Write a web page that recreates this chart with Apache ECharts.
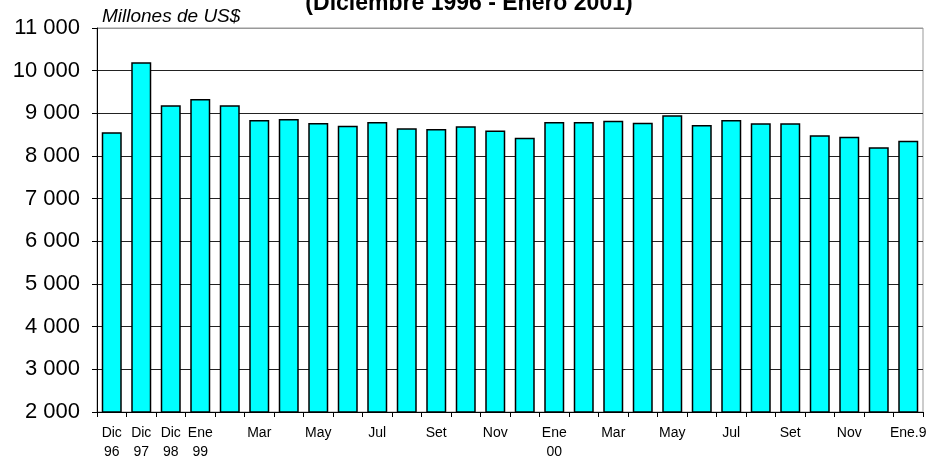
<!DOCTYPE html>
<html><head><meta charset="utf-8">
<script src="https://cdn.jsdelivr.net/npm/echarts@6/dist/echarts.min.js"></script>
<style>html,body{margin:0;padding:0;background:#fff}#c{width:935px;height:457px}</style>
</head><body><div id="c"></div>
<script>
const categories = ["Dic\n96","Dic\n97","Dic\n98","Ene\n99","Feb","Mar","Abr","May","Jun","Jul","Ago","Set","Oct","Nov","Dic","Ene\n00","Feb","Mar","Abr","May","Jun","Jul","Ago","Set","Oct","Nov","Dic","Ene.9"];
const values = [8555,10195,9190,9335,9190,8845,8865,8775,8710,8795,8650,8635,8695,8595,8430,8795,8795,8825,8780,8955,8725,8845,8765,8765,8485,8450,8205,8360];
const yTicks = [2000,3000,4000,5000,6000,7000,8000,9000,10000,11000];
const titleText = "(Diciembre 1996 - Enero 2001)";
const unitText = "Millones de US$";

const chart = echarts.init(document.getElementById('c'), null, {renderer:'canvas'});
const font = "Arial, 'Liberation Sans', sans-serif";
chart.setOption({
  animation:false,
  backgroundColor:'#fff',
  grid:{left:97,right:12,top:28,bottom:45,containLabel:false,outerBoundsMode:'none',show:true,borderColor:'#999',borderWidth:1,backgroundColor:'transparent'},
  graphic:[
    {type:'text',x:469,y:4,style:{text:titleText,font:"bold 23px "+font,fill:'#000',textAlign:'center',textVerticalAlign:'middle'}},
    {type:'text',x:102,y:17,style:{text:unitText,font:"italic 19px "+font,fill:'#000',textVerticalAlign:'middle'}}
  ],
  xAxis:{
    type:'category',data:categories,boundaryGap:true,
    axisLine:{lineStyle:{color:'#000',width:1}},
    axisTick:{show:true,alignWithLabel:false,interval:0,length:5,lineStyle:{color:'#000'}},
    axisLabel:{interval:function(i){return i<4||i%2===1;},margin:12,fontSize:14,lineHeight:19,color:'#000',fontFamily:font},
    splitLine:{show:false}
  },
  yAxis:{
    type:'value',min:yTicks[0],max:yTicks[yTicks.length-1],interval:1000,
    axisLine:{show:true,lineStyle:{color:'#000',width:1}},
    axisTick:{show:true,length:5,lineStyle:{color:'#000'}},
    axisLabel:{margin:17,fontSize:22,color:'#000',fontFamily:font,
      formatter:function(v){return String(v).replace(/\B(?=(\d{3})+(?!\d))/g,' ');}},
    splitLine:{show:true,lineStyle:{color:['#222','#222','#222','#222','#222','#222','#222','#222','#222','#999'],width:1}}
  },
  series:[{type:'bar',data:values,barWidth:20,
    itemStyle:{color:'#00FFFF',borderColor:'#000',borderWidth:1.5}}]
});
</script></body></html>
